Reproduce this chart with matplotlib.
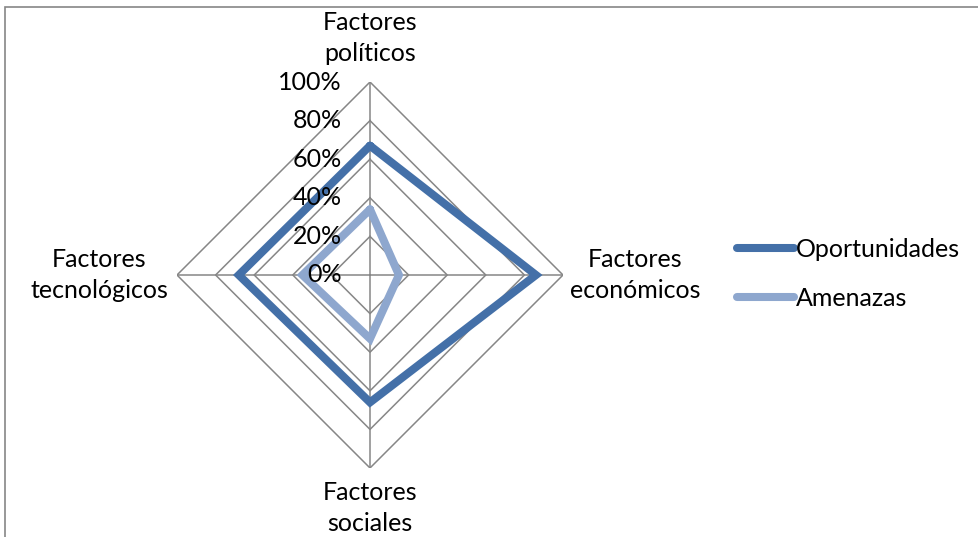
import numpy as np
import matplotlib
matplotlib.use("Agg")
from matplotlib import pyplot as plt
from matplotlib.patches import Rectangle

categories = ["Factores\npolíticos", "Factores\neconómicos",
              "Factores\nsociales", "Factores\ntecnológicos"]
oportunidades = [0.67, 0.86, 0.66, 0.68]
amenazas = [0.34, 0.15, 0.33, 0.35]
levels = [0.2, 0.4, 0.6, 0.8, 1.0]
level_labels = ["0%", "20%", "40%", "60%", "80%", "100%"]

plt.rcParams["font.family"] = ["Lato", "DejaVu Sans"]
font_size = 18
grid_color = "#868686"

W, H = 979, 537
fig = plt.figure(figsize=(W / 100, H / 100), dpi=100)

# chart area border (runs off the right and bottom edges)
fig.patches.append(Rectangle((5 / W, -0.1), 2, 1 - 7 / H + 0.1,
                             transform=fig.transFigure, fill=False,
                             edgecolor=grid_color, linewidth=1.2))

cx, cy, r = 370, H - 275, 193
ax = fig.add_axes([(cx - r) / W, (cy - r) / H, 2 * r / W, 2 * r / H],
                  projection="polar")
ax.set_theta_zero_location("N")
ax.set_theta_direction(-1)
ax.set_ylim(0, 1)
ax.grid(False)
ax.spines["polar"].set_visible(False)
ax.set_xticks([])
ax.set_yticks([])
ax.patch.set_alpha(0)

angles = np.linspace(0, 2 * np.pi, len(categories), endpoint=False)
closed = np.append(angles, angles[0])

# diamond gridlines and spokes
for lv in levels:
    ax.plot(closed, [lv] * len(closed), color=grid_color, lw=1.1, zorder=1)
for a in angles:
    ax.plot([a, a], [0, 1], color=grid_color, lw=1.1, zorder=1)

# radial tick labels
for i, lab in enumerate(level_labels):
    ax.annotate(lab, (0, i * 0.2), xytext=(-28, 0), textcoords="offset pixels",
                ha="right", va="center", fontsize=font_size, zorder=5)

# category labels
offsets = [(0, 44), (72, 0), (0, -40), (-78, 0)]
for a, lab, off in zip(angles, categories, offsets):
    ax.annotate(lab, (a, 1), xytext=off, textcoords="offset pixels",
                ha="center", va="center", fontsize=font_size,
                linespacing=1.45)

ax.plot(closed, oportunidades + oportunidades[:1], color="#4470A8", lw=5.8,
        solid_joinstyle="miter", solid_capstyle="round", label="Oportunidades",
        zorder=3)
ax.plot(closed, amenazas + amenazas[:1], color="#8EA7CE", lw=5.8,
        solid_joinstyle="miter", solid_capstyle="round", label="Amenazas",
        zorder=3)

fig.legend(loc="center left", bbox_to_anchor=(737 / W, 1 - 274 / H),
           frameon=False, fontsize=font_size, handlelength=2.3,
           handletextpad=0.05, labelspacing=1.05, borderpad=0,
           borderaxespad=0)

fig.savefig("out.png", dpi=100)
